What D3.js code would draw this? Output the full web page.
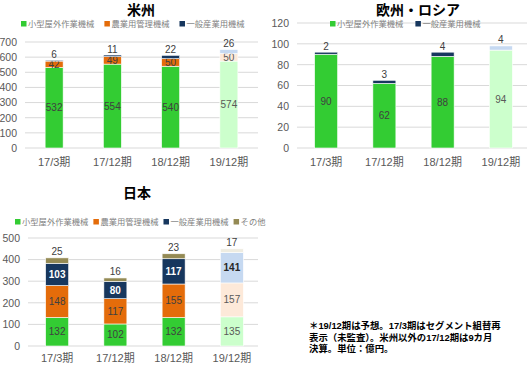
<!DOCTYPE html>
<html>
<head>
<meta charset="utf-8">
<script src="https://cdn.jsdelivr.net/npm/d3@7"></script>
<style>
  body { margin: 0; background: #fff; }
  text { font-family: "Liberation Sans", "Noto Sans CJK JP", sans-serif; }
</style>
</head>
<body>
<svg id="chart" width="530" height="365"></svg>
<script>
// periods (x categories)
var periods = ["17/3期", "17/12期", "18/12期", "19/12期"];

// series names
var seriesNames = ["小型屋外作業機械", "農業用管理機械", "一般産業用機械", "その他"];

// 米州
var amSmall = [532, 554, 540, 574];
var amAgri = [42, 49, 50, 50];
var amInd = [6, 11, 22, 26];
var amTicks = [0, 100, 200, 300, 400, 500, 600, 700];

// 欧州・ロシア
var euSmall = [90, 62, 88, 94];
var euInd = [2, 3, 4, 4];
var euTicks = [0, 20, 40, 60, 80, 100, 120];

// 日本
var jpSmall = [132, 102, 132, 135];
var jpAgri = [148, 117, 155, 157];
var jpInd = [103, 80, 117, 141];
var jpOther = [25, 16, 23, 17];
var jpTicks = [0, 100, 200, 300, 400, 500];

var noteLines = [
  "＊19/12期は予想。17/3期はセグメント組替再",
  "表示（未監査）。米州以外の17/12期は9カ月",
  "決算。単位：億円。"
];

// colours: normal / forecast (last period is lighter)
var colors = {
  "小型屋外作業機械": ["#33cc33", "#ccffcc"],
  "農業用管理機械": ["#e46c0a", "#fde9d9"],
  "一般産業用機械": ["#17375e", "#c6d9f1"],
  "その他": ["#948a54", "#eeece1"]
};

var svg = d3.select("#chart");

function drawChart(cfg) {
  var g = svg.append("g");

  var x = d3.scaleBand()
    .domain(periods)
    .range([cfg.left, cfg.right])
    .paddingInner(0)
    .paddingOuter(0);

  var y = d3.scaleLinear()
    .domain([0, cfg.max])
    .range([cfg.bottom, cfg.top]);

  // gridlines
  g.selectAll(".grid")
    .data(cfg.ticks)
    .enter()
    .append("line")
    .attr("x1", cfg.gridLeft)
    .attr("x2", cfg.gridRight)
    .attr("y1", d => y(d))
    .attr("y2", d => y(d))
    .attr("stroke", "#d9d9d9")
    .attr("stroke-width", 1);

  // y axis labels
  var leftAxis = d3.axisLeft(y).tickValues(cfg.ticks).tickSize(0).tickPadding(0);
  var ax = g.append("g")
    .attr("transform", `translate(${cfg.labelX}, 0)`)
    .call(leftAxis);
  ax.select(".domain").remove();
  ax.selectAll("text")
    .attr("fill", "#595959")
    .style("font-size", "10.5px")
    .style("font-family", "Liberation Sans, sans-serif");

  // x axis labels
  var bottomAxis = d3.axisBottom(x).tickSize(0).tickPadding(0);
  var bx = g.append("g")
    .attr("transform", `translate(0, ${cfg.xLabelY})`)
    .call(bottomAxis);
  bx.select(".domain").remove();
  bx.selectAll("text")
    .attr("fill", "#595959")
    .attr("dy", "0.35em")
    .attr("y", 0)
    .style("font-size", "11px")
    .style("font-family", "Liberation Sans, Noto Sans CJK JP, sans-serif");

  // stacked data
  var rows = periods.map(function(p, i) {
    var r = { period: p, idx: i };
    cfg.series.forEach(function(s) { r[s.name] = s.values[i]; });
    return r;
  });
  var keys = cfg.series.map(s => s.name);
  var stacked = d3.stack().keys(keys)(rows);

  var bw = cfg.barWidth;
  var layers = g.selectAll(".layer")
    .data(stacked)
    .enter()
    .append("g");

  layers.selectAll("rect")
    .data(d => d.map(v => ({ key: d.key, v: v })))
    .enter()
    .append("rect")
    .attr("x", d => x(d.v.data.period) + x.bandwidth() / 2 - bw / 2)
    .attr("y", d => y(d.v[1]))
    .attr("width", bw)
    .attr("height", d => y(d.v[0]) - y(d.v[1]))
    .attr("fill", d => colors[d.key][d.v.data.idx === periods.length - 1 ? 1 : 0])
    .attr("stroke", "#fff")
    .attr("stroke-width", 0.6);

  // value labels
  var lastKey = keys[keys.length - 1];
  layers.selectAll(".val")
    .data(d => d.map(v => ({ key: d.key, v: v })))
    .enter()
    .append("text")
    .attr("x", d => x(d.v.data.period) + x.bandwidth() / 2)
    .attr("y", d => d.key === lastKey ? y(d.v[1]) - 6 : (y(d.v[0]) + y(d.v[1])) / 2)
    .attr("dy", "0.35em")
    .attr("text-anchor", "middle")
    .style("font-size", "10px")
    .style("font-weight", d => (d.key === "一般産業用機械" && d.key !== lastKey) ? "bold" : "normal")
    .attr("fill", function(d) {
      var forecast = d.v.data.idx === periods.length - 1;
      if (d.key === "一般産業用機械" && d.key !== lastKey) return forecast ? "#262626" : "#ffffff";
      if (d.key === lastKey) return "#404040";
      return forecast ? "#595959" : "#404040";
    })
    .text(d => d.v.data[d.key]);

  // title
  g.append("text")
    .attr("x", cfg.titleX)
    .attr("y", cfg.titleY)
    .attr("dy", "0.35em")
    .attr("text-anchor", "middle")
    .style("font-size", "14px")
    .style("font-weight", "bold")
    .attr("fill", "#000")
    .text(cfg.title);

  // legend
  var lx = cfg.legendX;
  cfg.series.forEach(function(s) {
    g.append("rect")
      .attr("x", lx)
      .attr("y", cfg.legendY - 3)
      .attr("width", 5.5)
      .attr("height", 5.5)
      .attr("fill", colors[s.name][0]);
    var t = g.append("text")
      .attr("x", lx + 7)
      .attr("y", cfg.legendY)
      .attr("dy", "0.35em")
      .style("font-size", "8.3px")
      .attr("fill", "#7f7f7f")
      .text(s.name);
    lx += 7 + t.node().getComputedTextLength() + cfg.legendGap;
  });
}

drawChart({
  title: "米州", titleX: 141, titleY: 10,
  legendX: 21, legendY: 24, legendGap: 10,
  left: 25, right: 258, gridLeft: 25, gridRight: 258,
  top: 42, bottom: 148, max: 700, ticks: amTicks,
  labelX: 17, xLabelY: 162, barWidth: 18,
  series: [
    { name: seriesNames[0], values: amSmall },
    { name: seriesNames[1], values: amAgri },
    { name: seriesNames[2], values: amInd }
  ]
});

drawChart({
  title: "欧州・ロシア", titleX: 418, titleY: 10,
  legendX: 330, legendY: 24, legendGap: 12,
  left: 297, right: 530, gridLeft: 297, gridRight: 527,
  top: 23, bottom: 148, max: 120, ticks: euTicks,
  labelX: 289, xLabelY: 162, barWidth: 23,
  series: [
    { name: seriesNames[0], values: euSmall },
    { name: seriesNames[2], values: euInd }
  ]
});

drawChart({
  title: "日本", titleX: 137, titleY: 193,
  legendX: 15, legendY: 222, legendGap: 5,
  left: 28, right: 261, gridLeft: 28, gridRight: 258,
  top: 238, bottom: 346, max: 500, ticks: jpTicks,
  labelX: 20, xLabelY: 358, barWidth: 23,
  series: [
    { name: seriesNames[0], values: jpSmall },
    { name: seriesNames[1], values: jpAgri },
    { name: seriesNames[2], values: jpInd },
    { name: seriesNames[3], values: jpOther }
  ]
});

// note
svg.append("g").selectAll("text")
  .data(noteLines)
  .enter()
  .append("text")
  .attr("x", 309)
  .attr("y", (d, i) => 326 + i * 11.5)
  .attr("dy", "0.35em")
  .style("font-size", "9.4px")
  .style("font-weight", "bold")
  .attr("fill", "#000")
  .text(d => d);
</script>
</body>
</html>
